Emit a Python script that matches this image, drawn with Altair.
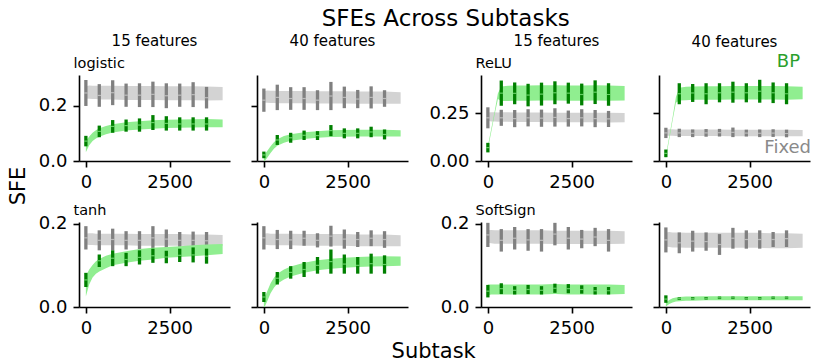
import altair as alt
import pandas as pd

FONT = "DejaVu Sans"

# ---------------- data ----------------
BAND_X = [0, 100, 200, 300, 400, 600, 800, 1200, 1600, 2000, 2400, 2800, 3200, 3600, 4080]
BAR_X = [0, 400, 800, 1200, 1600, 2000, 2400, 2800, 3200, 3600]

ACTIVATIONS = ["logistic", "ReLU", "tanh", "SoftSign"]
FEATURES = ["15 features", "40 features"]
SERIES = ["BP", "Fixed"]
X_TICKS = [0, 2500]

# logistic, 15 features
LOG15_FX_BAND = [0.248, 0.249, 0.248, 0.248, 0.247, 0.247, 0.247, 0.246, 0.246, 0.246, 0.245, 0.245, 0.245, 0.244, 0.244]
LOG15_FX_SPREAD = [0.022, 0.024, 0.024, 0.024, 0.025, 0.025, 0.025, 0.025, 0.025, 0.025, 0.025, 0.025, 0.025, 0.025, 0.024]
LOG15_FX_MEAN = [0.246, 0.237, 0.247, 0.238, 0.238, 0.241, 0.236, 0.238, 0.240, 0.229]
LOG15_FX_HW = [0.047, 0.041, 0.045, 0.042, 0.043, 0.046, 0.045, 0.042, 0.045, 0.039]
LOG15_BP_BAND = [0.052, 0.073, 0.087, 0.096, 0.103, 0.112, 0.118, 0.125, 0.129, 0.132, 0.134, 0.135, 0.136, 0.137, 0.136]
LOG15_BP_SPREAD = [0.020, 0.016, 0.015, 0.015, 0.015, 0.015, 0.015, 0.015, 0.015, 0.015, 0.015, 0.015, 0.015, 0.015, 0.014]
LOG15_BP_MEAN = [0.072, 0.107, 0.125, 0.128, 0.130, 0.139, 0.136, 0.134, 0.134, 0.134]
LOG15_BP_HW = [0.019, 0.021, 0.023, 0.022, 0.024, 0.027, 0.026, 0.024, 0.024, 0.024]

# logistic, 40 features
LOG40_FX_BAND = [0.232, 0.233, 0.232, 0.232, 0.231, 0.231, 0.231, 0.231, 0.230, 0.230, 0.230, 0.229, 0.229, 0.229, 0.228]
LOG40_FX_SPREAD = [0.020, 0.022, 0.022, 0.022, 0.022, 0.022, 0.022, 0.022, 0.022, 0.022, 0.022, 0.022, 0.022, 0.022, 0.021]
LOG40_FX_MEAN = [0.220, 0.230, 0.226, 0.226, 0.220, 0.235, 0.230, 0.224, 0.230, 0.226]
LOG40_FX_HW = [0.042, 0.046, 0.041, 0.041, 0.036, 0.051, 0.039, 0.033, 0.040, 0.030]
LOG40_BP_BAND = [0.008, 0.024, 0.041, 0.056, 0.067, 0.078, 0.085, 0.092, 0.096, 0.099, 0.100, 0.101, 0.101, 0.101, 0.100]
LOG40_BP_SPREAD = [0.012, 0.012, 0.012, 0.012, 0.012, 0.012, 0.012, 0.012, 0.012, 0.012, 0.012, 0.012, 0.012, 0.012, 0.011]
LOG40_BP_MEAN = [0.022, 0.076, 0.084, 0.093, 0.092, 0.110, 0.100, 0.100, 0.105, 0.096]
LOG40_BP_HW = [0.012, 0.018, 0.018, 0.017, 0.016, 0.020, 0.018, 0.018, 0.019, 0.018]

# ReLU, 15 features
RELU15_FX_BAND = [0.232, 0.231, 0.231, 0.230, 0.230, 0.230, 0.229, 0.229, 0.229, 0.228, 0.228, 0.228, 0.228, 0.227, 0.227]
RELU15_FX_SPREAD = [0.022, 0.024, 0.024, 0.024, 0.025, 0.025, 0.025, 0.025, 0.025, 0.025, 0.025, 0.025, 0.025, 0.025, 0.024]
RELU15_FX_MEAN = [0.226, 0.226, 0.222, 0.226, 0.224, 0.228, 0.222, 0.226, 0.222, 0.220]
RELU15_FX_HW = [0.055, 0.042, 0.045, 0.045, 0.045, 0.048, 0.042, 0.045, 0.045, 0.042]
RELU15_BP_BAND = [0.070, 0.160, 0.250, 0.340, 0.352, 0.354, 0.355, 0.355, 0.356, 0.356, 0.355, 0.355, 0.356, 0.355, 0.354]
RELU15_BP_SPREAD = [0.008, 0.008, 0.008, 0.015, 0.038, 0.040, 0.040, 0.040, 0.040, 0.040, 0.040, 0.040, 0.040, 0.040, 0.038]
RELU15_BP_MEAN = [0.070, 0.355, 0.354, 0.345, 0.350, 0.357, 0.355, 0.348, 0.360, 0.348]
RELU15_BP_HW = [0.025, 0.066, 0.057, 0.059, 0.060, 0.060, 0.055, 0.057, 0.062, 0.059]

# ReLU, 40 features
RELU40_FX_BAND = [0.149, 0.149, 0.149, 0.148, 0.148, 0.148, 0.148, 0.148, 0.148, 0.147, 0.147, 0.147, 0.147, 0.147, 0.146]
RELU40_FX_SPREAD = [0.015, 0.017, 0.017, 0.017, 0.017, 0.017, 0.017, 0.017, 0.017, 0.017, 0.017, 0.017, 0.017, 0.017, 0.016]
RELU40_FX_MEAN = [0.147, 0.147, 0.145, 0.147, 0.148, 0.150, 0.146, 0.145, 0.146, 0.144]
RELU40_FX_HW = [0.027, 0.022, 0.020, 0.020, 0.020, 0.025, 0.018, 0.020, 0.020, 0.020]
RELU40_BP_BAND = [0.020, 0.120, 0.220, 0.320, 0.350, 0.353, 0.355, 0.356, 0.356, 0.357, 0.357, 0.357, 0.357, 0.356, 0.356]
RELU40_BP_SPREAD = [0.008, 0.008, 0.008, 0.015, 0.033, 0.035, 0.035, 0.035, 0.035, 0.035, 0.035, 0.035, 0.035, 0.035, 0.033]
RELU40_BP_MEAN = [0.040, 0.352, 0.356, 0.352, 0.357, 0.360, 0.357, 0.365, 0.357, 0.352]
RELU40_BP_HW = [0.020, 0.055, 0.047, 0.055, 0.050, 0.055, 0.050, 0.060, 0.054, 0.055]

# tanh, 15 features
TANH15_FX_BAND = [0.163, 0.163, 0.163, 0.162, 0.162, 0.162, 0.162, 0.162, 0.161, 0.161, 0.161, 0.161, 0.160, 0.160, 0.160]
TANH15_FX_SPREAD = [0.013, 0.014, 0.014, 0.014, 0.014, 0.014, 0.014, 0.014, 0.014, 0.014, 0.014, 0.014, 0.014, 0.014, 0.013]
TANH15_FX_MEAN = [0.166, 0.160, 0.162, 0.160, 0.160, 0.166, 0.163, 0.160, 0.160, 0.159]
TANH15_FX_HW = [0.028, 0.024, 0.026, 0.022, 0.022, 0.028, 0.023, 0.020, 0.021, 0.021]
TANH15_BP_BAND = [0.050, 0.072, 0.086, 0.095, 0.100, 0.108, 0.114, 0.120, 0.125, 0.128, 0.131, 0.133, 0.135, 0.137, 0.139]
TANH15_BP_SPREAD = [0.025, 0.018, 0.015, 0.015, 0.015, 0.015, 0.014, 0.014, 0.014, 0.014, 0.013, 0.013, 0.013, 0.013, 0.012]
TANH15_BP_MEAN = [0.065, 0.111, 0.117, 0.114, 0.119, 0.123, 0.120, 0.124, 0.125, 0.122]
TANH15_BP_HW = [0.017, 0.015, 0.019, 0.016, 0.017, 0.017, 0.015, 0.016, 0.018, 0.018]

# tanh, 40 features
TANH40_FX_BAND = [0.163, 0.163, 0.162, 0.162, 0.162, 0.162, 0.162, 0.161, 0.161, 0.161, 0.161, 0.160, 0.160, 0.160, 0.159]
TANH40_FX_SPREAD = [0.013, 0.014, 0.014, 0.014, 0.014, 0.014, 0.014, 0.014, 0.014, 0.014, 0.014, 0.014, 0.014, 0.014, 0.013]
TANH40_FX_MEAN = [0.166, 0.162, 0.161, 0.165, 0.160, 0.170, 0.163, 0.162, 0.165, 0.162]
TANH40_FX_HW = [0.028, 0.023, 0.022, 0.018, 0.017, 0.025, 0.023, 0.018, 0.019, 0.020]
TANH40_BP_BAND = [0.008, 0.026, 0.045, 0.058, 0.068, 0.078, 0.085, 0.094, 0.100, 0.104, 0.106, 0.108, 0.109, 0.110, 0.110]
TANH40_BP_SPREAD = [0.012, 0.012, 0.012, 0.012, 0.012, 0.012, 0.012, 0.012, 0.012, 0.012, 0.012, 0.012, 0.012, 0.012, 0.011]
TANH40_BP_MEAN = [0.024, 0.069, 0.083, 0.090, 0.100, 0.109, 0.103, 0.100, 0.104, 0.102]
TANH40_BP_HW = [0.012, 0.015, 0.015, 0.018, 0.020, 0.029, 0.023, 0.020, 0.024, 0.022]

# SoftSign, 15 features
SOFT15_FX_BAND = [0.169, 0.169, 0.168, 0.168, 0.168, 0.168, 0.168, 0.168, 0.168, 0.167, 0.167, 0.167, 0.167, 0.167, 0.167]
SOFT15_FX_SPREAD = [0.015, 0.016, 0.016, 0.016, 0.016, 0.016, 0.016, 0.016, 0.016, 0.016, 0.016, 0.016, 0.016, 0.016, 0.015]
SOFT15_FX_MEAN = [0.173, 0.160, 0.165, 0.161, 0.160, 0.175, 0.165, 0.163, 0.168, 0.160]
SOFT15_FX_HW = [0.029, 0.027, 0.027, 0.026, 0.027, 0.027, 0.027, 0.022, 0.022, 0.027]
SOFT15_BP_BAND = [0.041, 0.042, 0.042, 0.042, 0.042, 0.042, 0.042, 0.042, 0.042, 0.043, 0.042, 0.042, 0.042, 0.042, 0.042]
SOFT15_BP_SPREAD = [0.013, 0.012, 0.012, 0.012, 0.012, 0.012, 0.012, 0.012, 0.012, 0.012, 0.012, 0.012, 0.012, 0.012, 0.011]
SOFT15_BP_MEAN = [0.038, 0.044, 0.040, 0.042, 0.040, 0.045, 0.044, 0.042, 0.039, 0.039]
SOFT15_BP_HW = [0.015, 0.013, 0.010, 0.011, 0.010, 0.011, 0.011, 0.010, 0.009, 0.009]

# SoftSign, 40 features
SOFT40_FX_BAND = [0.162, 0.162, 0.161, 0.161, 0.161, 0.160, 0.160, 0.160, 0.160, 0.160, 0.160, 0.160, 0.159, 0.159, 0.159]
SOFT40_FX_SPREAD = [0.017, 0.018, 0.018, 0.018, 0.018, 0.018, 0.018, 0.018, 0.018, 0.018, 0.018, 0.018, 0.018, 0.018, 0.017]
SOFT40_FX_MEAN = [0.161, 0.154, 0.158, 0.157, 0.150, 0.165, 0.162, 0.162, 0.162, 0.164]
SOFT40_FX_HW = [0.030, 0.025, 0.025, 0.022, 0.025, 0.025, 0.022, 0.022, 0.018, 0.020]
SOFT40_BP_BAND = [0.006, 0.012, 0.016, 0.018, 0.019, 0.020, 0.020, 0.021, 0.021, 0.021, 0.021, 0.021, 0.021, 0.021, 0.021]
SOFT40_BP_SPREAD = [0.005, 0.005, 0.005, 0.005, 0.005, 0.005, 0.005, 0.005, 0.005, 0.005, 0.005, 0.005, 0.005, 0.005, 0.005]
SOFT40_BP_MEAN = [0.019, 0.020, 0.021, 0.021, 0.022, 0.022, 0.021, 0.021, 0.022, 0.022]
SOFT40_BP_HW = [0.009, 0.003, 0.003, 0.003, 0.003, 0.003, 0.003, 0.003, 0.003, 0.003]

# y-axis settings per activation: (domain max, tick values, label format)
Y_AXES = {
    "logistic": (0.311, [0, 0.2], ".1f"),
    "ReLU": (0.45, [0, 0.25], ".2f"),
    "tanh": (0.204, [0, 0.2], ".1f"),
    "SoftSign": (0.204, [0, 0.2], ".1f"),
}

PANELS = [
    ("logistic", 0, LOG15_FX_BAND, LOG15_FX_SPREAD, LOG15_FX_MEAN, LOG15_FX_HW, LOG15_BP_BAND, LOG15_BP_SPREAD, LOG15_BP_MEAN, LOG15_BP_HW),
    ("logistic", 1, LOG40_FX_BAND, LOG40_FX_SPREAD, LOG40_FX_MEAN, LOG40_FX_HW, LOG40_BP_BAND, LOG40_BP_SPREAD, LOG40_BP_MEAN, LOG40_BP_HW),
    ("ReLU", 0, RELU15_FX_BAND, RELU15_FX_SPREAD, RELU15_FX_MEAN, RELU15_FX_HW, RELU15_BP_BAND, RELU15_BP_SPREAD, RELU15_BP_MEAN, RELU15_BP_HW),
    ("ReLU", 1, RELU40_FX_BAND, RELU40_FX_SPREAD, RELU40_FX_MEAN, RELU40_FX_HW, RELU40_BP_BAND, RELU40_BP_SPREAD, RELU40_BP_MEAN, RELU40_BP_HW),
    ("tanh", 0, TANH15_FX_BAND, TANH15_FX_SPREAD, TANH15_FX_MEAN, TANH15_FX_HW, TANH15_BP_BAND, TANH15_BP_SPREAD, TANH15_BP_MEAN, TANH15_BP_HW),
    ("tanh", 1, TANH40_FX_BAND, TANH40_FX_SPREAD, TANH40_FX_MEAN, TANH40_FX_HW, TANH40_BP_BAND, TANH40_BP_SPREAD, TANH40_BP_MEAN, TANH40_BP_HW),
    ("SoftSign", 0, SOFT15_FX_BAND, SOFT15_FX_SPREAD, SOFT15_FX_MEAN, SOFT15_FX_HW, SOFT15_BP_BAND, SOFT15_BP_SPREAD, SOFT15_BP_MEAN, SOFT15_BP_HW),
    ("SoftSign", 1, SOFT40_FX_BAND, SOFT40_FX_SPREAD, SOFT40_FX_MEAN, SOFT40_FX_HW, SOFT40_BP_BAND, SOFT40_BP_SPREAD, SOFT40_BP_MEAN, SOFT40_BP_HW),
]

# ---------------- styling ----------------
LIGHT = {"BP": "#90ee90", "Fixed": "#d3d3d3"}
DARK = {"BP": "#008000", "Fixed": "#808080"}
TEXT_COL = {"BP": "#2ca02c", "Fixed": "#8a8a8a"}
PW = 151


def band_df(mean, spread):
    return pd.DataFrame({
        "x": BAND_X,
        "lo": [m - s for m, s in zip(mean, spread)],
        "hi": [m + s for m, s in zip(mean, spread)],
    })


def bar_df(mean, hw):
    return pd.DataFrame({
        "x": BAR_X,
        "mean": mean,
        "lo": [m - h for m, h in zip(mean, hw)],
        "hi": [m + h for m, h in zip(mean, hw)],
    })


def make_panel(idx, act, fi, fx_band, fx_spread, fx_mean, fx_hw, bp_band, bp_spread, bp_mean, bp_hw):
    top_row = idx < 4
    height = 86 if top_row else 85
    ymax, yticks, yfmt = Y_AXES[act]
    show_labels = fi == 0
    xs = alt.Scale(domain=[-205, 4300], nice=False, zero=False)
    ys = alt.Scale(domain=[0, ymax], nice=False, zero=False)
    x_axis = alt.Axis(values=X_TICKS, format="d", title=None, labelFlush=False)
    y_axis = alt.Axis(
        values=yticks, format=yfmt, labels=show_labels, title=act,
        titleAngle=0, titleAlign="left", titleBaseline="alphabetic",
        titleX=-6, titleY=-8, titleFontSize=14.5,
        titleOpacity=1 if show_labels else 0,
    )
    x_enc = alt.X("x:Q", scale=xs, axis=x_axis, title=None)
    layers = []
    for name, band, spread, mean, hw in (
        ("Fixed", fx_band, fx_spread, fx_mean, fx_hw),
        ("BP", bp_band, bp_spread, bp_mean, bp_hw),
    ):
        layers.append(
            alt.Chart(band_df(band, spread)).mark_area(color=LIGHT[name], clip=True, opacity=1)
            .encode(x=x_enc, y=alt.Y("lo:Q", scale=ys, axis=y_axis, title=act), y2="hi:Q")
        )
        bars = bar_df(mean, hw)
        layers.append(
            alt.Chart(bars).mark_rule(color=DARK[name], strokeWidth=3.3, clip=True)
            .encode(x=x_enc, y=alt.Y("lo:Q", scale=ys, axis=y_axis, title=act), y2="hi:Q")
        )
        layers.append(
            alt.Chart(bars).mark_tick(color=LIGHT[name], orient="horizontal", size=3.3, thickness=1.2, clip=True)
            .encode(x=x_enc, y=alt.Y("mean:Q", scale=ys, axis=y_axis, title=act))
        )
    if idx == 3:
        layers.append(
            alt.Chart(pd.DataFrame({"t": [SERIES[0]]})).mark_text(
                font=FONT, fontSize=18, align="right", baseline="middle", color=TEXT_COL["BP"]
            ).encode(x=alt.value(PW - 10), y=alt.value(-13), text="t:N")
        )
        layers.append(
            alt.Chart(pd.DataFrame({"t": [SERIES[1]]})).mark_text(
                font=FONT, fontSize=18, align="right", baseline="middle", color=TEXT_COL["Fixed"]
            ).encode(x=alt.value(PW + 1), y=alt.value(73), text="t:N")
        )
    ch = alt.layer(*layers).properties(width=PW, height=height)
    if top_row:
        ch = ch.properties(title=alt.TitleParams(
            FEATURES[fi], fontSize=15, anchor="middle", frame="group",
            offset=3 if idx == 3 else 6,
        ))
    return ch


panels = [make_panel(i, *p) for i, p in enumerate(PANELS)]

grid = alt.concat(*panels, columns=4, spacing={"row": 11, "column": 20}, align="each")

with_x = alt.vconcat(grid, title=alt.TitleParams("Subtask", orient="bottom", fontSize=21, anchor="middle", offset=4, dx=9))
with_y = alt.hconcat(with_x, title=alt.TitleParams("SFE", orient="left", fontSize=21, anchor="middle", offset=9, dx=12))
chart = alt.vconcat(
    with_y,
    title=alt.TitleParams("SFEs Across Subtasks", fontSize=23, anchor="middle", offset=1, dx=36, dy=-2),
).properties(
    padding={"left": 0, "top": 0, "right": 0, "bottom": 0}, background="white"
).configure_view(stroke=None).configure_axis(
    labelFont=FONT, labelFontSize=18, labelColor="black",
    domainColor="black", domainWidth=1.6, tickColor="black", tickWidth=1.6, tickSize=6,
    labelPadding=6, grid=False, titleFont=FONT, titleFontWeight="normal", titleColor="black",
).configure_title(font=FONT, fontWeight="normal", color="black")

chart.save("out.html", embed_options={"renderer": "svg", "actions": False})
